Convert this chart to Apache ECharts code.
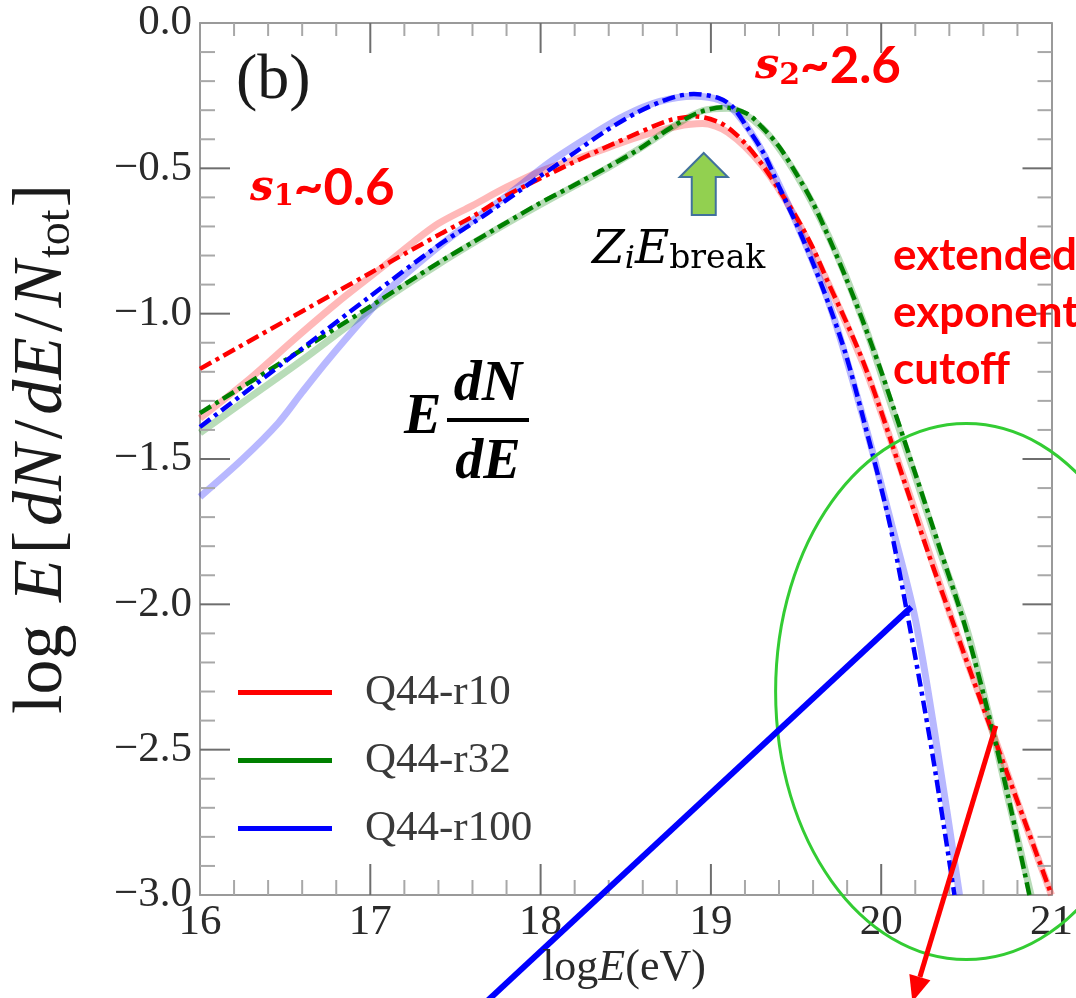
<!DOCTYPE html>
<html>
<head>
<meta charset="utf-8">
<script src="https://cdn.jsdelivr.net/npm/echarts@6.0.0/dist/echarts.min.js"></script>
<style>
html,body{margin:0;padding:0;background:#ffffff;}
#chart{width:1076px;height:998px;}
</style>
</head>
<body>
<div id="chart"></div>
<script>
// ---------- data ----------
const seriesNames = ['Q44-r10', 'Q44-r32', 'Q44-r100'];
const xTickLabels = ['16', '17', '18', '19', '20', '21'];
const yTickLabels = ['\u22123.0', '\u22122.5', '\u22122.0', '\u22121.5', '\u22121.0', '\u22120.5', '0.0'];

// fitted curves (dash-dot)
const fitR10 = [[16,-1.19],[16.5,-1.025],[17,-0.86],[17.42,-0.723],[17.6,-0.666],[17.79,-0.597],[17.98,-0.54],[18.18,-0.483],[18.37,-0.431],[18.57,-0.379],[18.76,-0.334],[18.92,-0.322],[19.05,-0.342],[19.13,-0.374],[19.21,-0.42],[19.31,-0.494],[19.4,-0.574],[19.5,-0.666],[19.6,-0.775],[19.69,-0.895],[19.79,-1.022],[19.89,-1.159],[19.99,-1.32],[20.14,-1.585],[20.28,-1.83],[20.42,-2.06],[20.59,-2.34],[20.84,-2.742],[21,-3.0]];
const fitR32 = [[16,-1.342],[16.5,-1.16],[17,-0.975],[17.4,-0.825],[17.6,-0.755],[17.79,-0.69],[17.98,-0.625],[18.18,-0.563],[18.37,-0.503],[18.57,-0.437],[18.76,-0.362],[18.92,-0.31],[19.07,-0.29],[19.21,-0.311],[19.3,-0.358],[19.4,-0.425],[19.5,-0.517],[19.6,-0.62],[19.69,-0.735],[19.79,-0.873],[19.89,-1.022],[19.99,-1.182],[20.07,-1.32],[20.2,-1.55],[20.34,-1.8],[20.49,-2.07],[20.61,-2.33],[20.745,-2.66],[20.87,-3.0]];
const fitR100 = [[16,-1.39],[16.5,-1.165],[17,-0.94],[17.4,-0.765],[17.6,-0.689],[17.79,-0.613],[17.98,-0.534],[18.18,-0.454],[18.37,-0.376],[18.57,-0.307],[18.76,-0.259],[18.9,-0.244],[19.05,-0.259],[19.13,-0.29],[19.21,-0.357],[19.31,-0.448],[19.4,-0.563],[19.5,-0.689],[19.6,-0.827],[19.69,-0.964],[19.79,-1.136],[19.89,-1.35],[20.045,-1.71],[20.16,-2.054],[20.3,-2.512],[20.43,-3.0]];

// simulated spectra (pale solid)
const simR10 = [[16,-1.36],[16.3,-1.22],[16.55,-1.09],[16.8,-0.965],[17.06,-0.845],[17.25,-0.755],[17.4,-0.69],[17.6,-0.628],[17.8,-0.565],[18.0,-0.51],[18.2,-0.47],[18.4,-0.428],[18.6,-0.387],[18.8,-0.356],[18.95,-0.346],[19.1,-0.376],[19.3,-0.49],[19.5,-0.672],[19.7,-0.91],[19.9,-1.18],[20.0,-1.34],[20.2,-1.68],[20.42,-2.06],[20.6,-2.35],[20.84,-2.745],[21.0,-3.0]];
const simR32 = [[16,-1.41],[16.3,-1.285],[16.6,-1.16],[17,-0.985],[17.4,-0.83],[17.8,-0.69],[18.2,-0.56],[18.4,-0.496],[18.6,-0.425],[18.8,-0.348],[18.95,-0.302],[19.1,-0.293],[19.3,-0.36],[19.5,-0.52],[19.7,-0.745],[19.9,-1.035],[20.07,-1.335],[20.2,-1.56],[20.34,-1.81],[20.5,-2.08],[20.62,-2.35],[20.75,-2.68],[20.88,-3.0]];
const simR100 = [[16,-1.63],[16.25,-1.5],[16.46,-1.376],[16.6,-1.27],[16.75,-1.16],[17.0,-0.99],[17.14,-0.9],[17.4,-0.77],[17.6,-0.68],[17.8,-0.595],[18.05,-0.48],[18.3,-0.385],[18.5,-0.317],[18.7,-0.27],[18.9,-0.252],[19.05,-0.265],[19.15,-0.31],[19.3,-0.44],[19.5,-0.685],[19.7,-0.975],[19.9,-1.37],[20.05,-1.7],[20.2,-2.05],[20.33,-2.5],[20.46,-3.0]];

// ---------- chart ----------
const colors = ['#ff0000', '#008000', '#0000ff'];
const fits = [fitR10, fitR32, fitR100];
const sims = [simR10, simR32, simR100];

const chart = echarts.init(document.getElementById('chart'), null, {renderer: 'canvas'});

const serif = 'Liberation Serif';
const axisLineStyle = {color: '#9a9a9a', width: 2};

function xAxisCfg(pos, showLabel) {
  return {
    type: 'value', min: 16, max: 21, interval: 1, position: pos,
    axisLine: {show: true, onZero: false, lineStyle: axisLineStyle},
    axisTick: {show: false}, minorTick: {show: false},
    splitLine: {show: false}, minorSplitLine: {show: false},
    axisLabel: {
      show: showLabel, showMinLabel: true, showMaxLabel: true, margin: 6,
      fontFamily: serif, fontSize: 43, color: '#2a2a2a',
      formatter: v => xTickLabels[Math.round(v - 16)]
    }
  };
}
function yAxisCfg(pos, showLabel) {
  return {
    type: 'value', min: -3, max: 0, interval: 0.5, position: pos,
    axisLine: {show: true, onZero: false, lineStyle: axisLineStyle},
    axisTick: {show: false}, minorTick: {show: false},
    splitLine: {show: false}, minorSplitLine: {show: false},
    axisLabel: {
      show: showLabel, showMinLabel: true, showMaxLabel: true, margin: 8,
      fontFamily: serif, fontSize: 43, color: '#2a2a2a',
      formatter: v => yTickLabels[Math.round((v + 3) / 0.5)]
    }
  };
}

const series = [];
for (let i = 0; i < 3; i++) {
  series.push({
    name: seriesNames[i] + ' sim', type: 'line', data: sims[i],
    xAxisIndex: 0, yAxisIndex: 0, symbol: 'none', smooth: 0.3, z: 2,
    lineStyle: {color: colors[i], width: 7, opacity: 0.28},
    itemStyle: {color: colors[i]}, silent: true
  });
}
for (let i = 0; i < 3; i++) {
  series.push({
    name: seriesNames[i], type: 'line', data: fits[i],
    xAxisIndex: 0, yAxisIndex: 0, symbol: 'none', smooth: 0.3, z: 3,
    lineStyle: {color: colors[i], width: 4.5, type: [13, 5, 4, 5]},
    itemStyle: {color: colors[i]}, silent: true
  });
}

chart.setOption({
  animation: false,
  backgroundColor: '#ffffff',
  grid: {left: 200, top: 23, right: 19, bottom: 103, containLabel: false},
  xAxis: [xAxisCfg('bottom', true), xAxisCfg('top', false)],
  yAxis: [yAxisCfg('left', true), yAxisCfg('right', false)],
  legend: {
    orient: 'vertical', left: 238, top: 671, padding: 0,
    itemWidth: 94, itemHeight: 5, itemGap: 25, icon: 'rect',
    itemStyle: {borderWidth: 0},
    selectedMode: false,
    data: seriesNames,
    textStyle: {fontFamily: serif, fontSize: 43, color: '#3a3a3a', lineHeight: 42, padding: [0, 0, 0, 28]}
  },
  series: series
});

// ---------- ticks (drawn through the axes' own scale) ----------
const P = (x, y) => chart.convertToPixel({gridIndex: 0}, [x, y]);
const graphics = [];
function tick(x1, y1, x2, y2, major) {
  graphics.push({type: 'line', z: 50, silent: true,
    shape: {x1: x1, y1: y1, x2: x2, y2: y2},
    style: {stroke: major ? '#6e6e6e' : '#a8a8a8', lineWidth: 2}});
}
for (let k = 1; k < 25; k++) {
  const v = 16 + k / 5, major = k % 5 === 0;
  const b = P(v, -3), t = P(v, 0);
  tick(b[0], b[1], b[0], b[1] - (major ? 31 : 15), major);
  tick(t[0], t[1], t[0], t[1] + (major ? 30 : 13), major);
}
for (let k = 1; k < 30; k++) {
  const v = -3 + k / 10, major = k % 5 === 0;
  const l = P(16, v), r = P(21, v);
  tick(l[0], l[1], l[0] + (major ? 30 : 15), l[1], major);
  tick(r[0], r[1], r[0] - (major ? 29 : 14), r[1], major);
}

// ---------- annotations ----------
const ellC = P(20.5, -2.30);
const ellR = P(21.62, -2.30 + 0.922);
const blueA = P(20.177, -2.009), blueB = P(17.64, -3.39);
const redA = P(20.673, -2.418), redT = P(20.183, -3.368);
const greenTip = P(18.958, -0.447);

const dx = redT[0] - redA[0], dy = redT[1] - redA[1];
const dl = Math.sqrt(dx * dx + dy * dy);
const ux = dx / dl, uy = dy / dl, nx = -uy, ny = ux;
const HL = 26, HW = 11;
const base = [redT[0] - ux * HL, redT[1] - uy * HL];

const gt = greenTip;
const greenArrow = [
  [gt[0], gt[1]], [gt[0] + 24, gt[1] + 24], [gt[0] + 12, gt[1] + 24], [gt[0] + 12, gt[1] + 62],
  [gt[0] - 12, gt[1] + 62], [gt[0] - 12, gt[1] + 24], [gt[0] - 24, gt[1] + 24]
];

graphics.push(
  {type: 'ellipse', z: 100, silent: true,
   shape: {cx: ellC[0], cy: ellC[1], rx: ellR[0] - ellC[0], ry: ellC[1] - ellR[1]},
   style: {fill: 'none', stroke: '#33cc33', lineWidth: 3}},
  {type: 'line', z: 101, silent: true,
   shape: {x1: blueA[0], y1: blueA[1], x2: blueB[0], y2: blueB[1]},
   style: {stroke: '#0000ff', lineWidth: 6}},
  {type: 'line', z: 101, silent: true,
   shape: {x1: redA[0], y1: redA[1], x2: base[0], y2: base[1]},
   style: {stroke: '#ff0000', lineWidth: 5}},
  {type: 'polygon', z: 101, silent: true,
   shape: {points: [[redT[0], redT[1]], [base[0] + nx * HW, base[1] + ny * HW], [base[0] - nx * HW, base[1] - ny * HW]]},
   style: {fill: '#ff0000'}},
  {type: 'polygon', z: 101, silent: true,
   shape: {points: greenArrow},
   style: {fill: '#92d050', stroke: '#41719c', lineWidth: 2}},

  // (b)
  {type: 'text', z: 110, x: 236, y: 81, silent: true,
   style: {text: '(b)', fontFamily: serif, fontSize: 64, fill: '#1a1a1a', align: 'left', verticalAlign: 'middle'}},

  // s1 ~ 0.6
  {type: 'text', z: 110, x: 250, y: 189, silent: true,
   style: {text: '{a|s}{b|1}{c|~0.6}', align: 'left', verticalAlign: 'middle',
     rich: {
       a: {fontFamily: 'DejaVu Serif', fontStyle: 'italic', fontWeight: 'bold', fontSize: 42, lineHeight: 46, fill: '#ff0000', verticalAlign: 'middle'},
       b: {fontFamily: 'DejaVu Serif', fontWeight: 'bold', fontSize: 29, lineHeight: 10, fill: '#ff0000', verticalAlign: 'bottom'},
       c: {fontFamily: 'Lato', fontWeight: 'bold', fontSize: 51, lineHeight: 46, fill: '#ff0000', verticalAlign: 'middle'}
     }}},
  // s2 ~ 2.6
  {type: 'text', z: 110, x: 755, y: 67, silent: true,
   style: {text: '{a|s}{b|2}{c|~2.6}', align: 'left', verticalAlign: 'middle',
     rich: {
       a: {fontFamily: 'DejaVu Serif', fontStyle: 'italic', fontWeight: 'bold', fontSize: 43, lineHeight: 48, fill: '#ff0000', verticalAlign: 'middle'},
       b: {fontFamily: 'DejaVu Serif', fontWeight: 'bold', fontSize: 30, lineHeight: 10, fill: '#ff0000', verticalAlign: 'bottom'},
       c: {fontFamily: 'Lato', fontWeight: 'bold', fontSize: 51, lineHeight: 48, fill: '#ff0000', verticalAlign: 'middle'}
     }}},
  // Z_i E_break
  {type: 'text', z: 110, x: 592, y: 251, silent: true,
   style: {text: '{m|Z}{si|i}{m|E}{s|break}', align: 'left', verticalAlign: 'middle',
     rich: {
       m: {fontFamily: 'DejaVu Serif', fontStyle: 'italic', fontSize: 47, lineHeight: 50, fill: '#000000', verticalAlign: 'middle'},
       si: {fontFamily: 'DejaVu Serif', fontStyle: 'italic', fontSize: 32, lineHeight: 16, fill: '#000000', verticalAlign: 'bottom'},
       s: {fontFamily: 'DejaVu Serif', fontSize: 33, lineHeight: 16, fill: '#000000', verticalAlign: 'bottom'}
     }}},
  // E dN/dE
  {type: 'text', z: 110, x: 404, y: 419, silent: true,
   style: {text: 'E', fontFamily: serif, fontStyle: 'italic', fontWeight: 'bold', fontSize: 56, fill: '#000000', align: 'left', verticalAlign: 'middle'}},
  {type: 'text', z: 110, x: 488, y: 386, silent: true,
   style: {text: 'dN', fontFamily: serif, fontStyle: 'italic', fontWeight: 'bold', fontSize: 56, fill: '#000000', align: 'center', verticalAlign: 'middle'}},
  {type: 'text', z: 110, x: 488, y: 464, silent: true,
   style: {text: 'dE', fontFamily: serif, fontStyle: 'italic', fontWeight: 'bold', fontSize: 56, fill: '#000000', align: 'center', verticalAlign: 'middle'}},
  {type: 'line', z: 110, silent: true,
   shape: {x1: 447, y1: 420, x2: 529, y2: 420},
   style: {stroke: '#000000', lineWidth: 4}},
  // extended exponent cutoff
  {type: 'text', z: 110, x: 893, y: 227, silent: true,
   style: {text: 'extended\nexponent\ncutoff', fontFamily: 'Lato', fontWeight: 'bold', fontSize: 44, lineHeight: 57, fill: '#ff0000', align: 'left', verticalAlign: 'top'}},
  // x-axis name
  {type: 'text', z: 110, x: 624, y: 968, silent: true,
   style: {text: '{r|log}{i|E}{r|(eV)}', align: 'center', verticalAlign: 'middle',
     rich: {
       r: {fontFamily: serif, fontSize: 44, fill: '#2a2a2a'},
       i: {fontFamily: serif, fontStyle: 'italic', fontSize: 44, fill: '#2a2a2a'}
     }}},
  // y-axis name
  {type: 'text', z: 110, x: 43, y: 449, rotation: Math.PI / 2, silent: true,
   style: {text: '{r|log }{i|E}{r|[}{i|dN}{r|/}{i|dE}{r|/}{i|N}{s|tot}{r|]}', align: 'center', verticalAlign: 'middle',
     rich: {
       r: {fontFamily: serif, fontSize: 70, lineHeight: 74, fill: '#1a1a1a', verticalAlign: 'middle', padding: [0, 2]},
       i: {fontFamily: serif, fontStyle: 'italic', fontSize: 70, lineHeight: 74, fill: '#1a1a1a', verticalAlign: 'middle', padding: [0, 3]},
       s: {fontFamily: serif, fontSize: 46, lineHeight: 24, fill: '#1a1a1a', verticalAlign: 'bottom'}
     }}}
);

chart.setOption({graphic: graphics});
</script>
</body>
</html>
